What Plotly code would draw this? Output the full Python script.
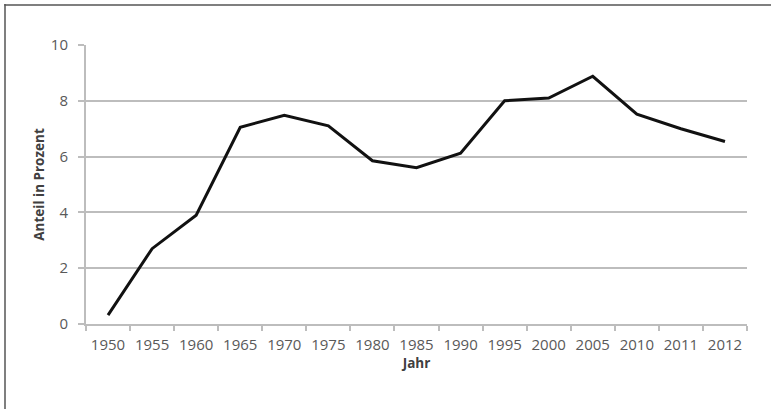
import plotly.graph_objects as go

years = ["1950", "1955", "1960", "1965", "1970", "1975", "1980", "1985",
         "1990", "1995", "2000", "2005", "2010", "2011", "2012"]
anteil = [0.32, 2.7, 3.9, 7.05, 7.48, 7.1, 5.85, 5.6, 6.12, 8.0, 8.1, 8.88, 7.52, 7.0, 6.54]

fig = go.Figure()
fig.add_trace(go.Scatter(x=years, y=anteil, mode="lines",
                         line=dict(color="#111111", width=3),
                         showlegend=False, hoverinfo="skip"))

L, R, T, B = 86, 24, 45, 85
W, H = 771, 409
pw = W - L - R
ph = H - T - B

def px2x(p):
    return (p - L) / pw

def py2y(p):
    return (H - B - p) / ph

grid_c = "#bdbdbd"

fig.update_layout(
    width=W, height=H,
    margin=dict(l=L, r=R, t=T, b=B),
    paper_bgcolor="white", plot_bgcolor="white",
    font=dict(family="'Open Sans', sans-serif", color="#595959", size=15),
    xaxis=dict(type="category", range=[-0.5, len(years) - 0.5],
               tickson="boundaries", ticks="outside", ticklen=5,
               tickcolor=grid_c, tickwidth=1.5, showline=True, linecolor=grid_c, linewidth=2,
               showgrid=False, tickfont=dict(size=15, color="#595959"),
               ticklabelstandoff=6,
               title=dict(text="<b>Jahr</b>", font=dict(size=13.5, color="#404040"), standoff=3)),
    yaxis=dict(range=[0, 10], dtick=2, ticks="outside", ticklen=6, tickcolor=grid_c,
               tickwidth=1.5, showline=True, linecolor=grid_c, linewidth=2,
               showgrid=True, gridcolor=grid_c, gridwidth=2, zeroline=False,
               tickfont=dict(size=15, color="#595959"),
               ticklabelstandoff=7,
               title=dict(text="<b>Anteil in Prozent</b>", font=dict(size=13.5, color="#404040"), standoff=3)),
    shapes=[
        dict(type="line", xref="paper", yref="paper",
             x0=px2x(5), x1=px2x(5), y0=py2y(4), y1=py2y(409),
             line=dict(color="#555555", width=1.5)),
        dict(type="line", xref="paper", yref="paper",
             x0=px2x(4.3), x1=px2x(771), y0=py2y(5), y1=py2y(5),
             line=dict(color="#555555", width=1.5)),
    ],
)

fig.write_html("out.html", config={"displayModeBar": False},
               post_script="document.body.style.margin='0px';")
